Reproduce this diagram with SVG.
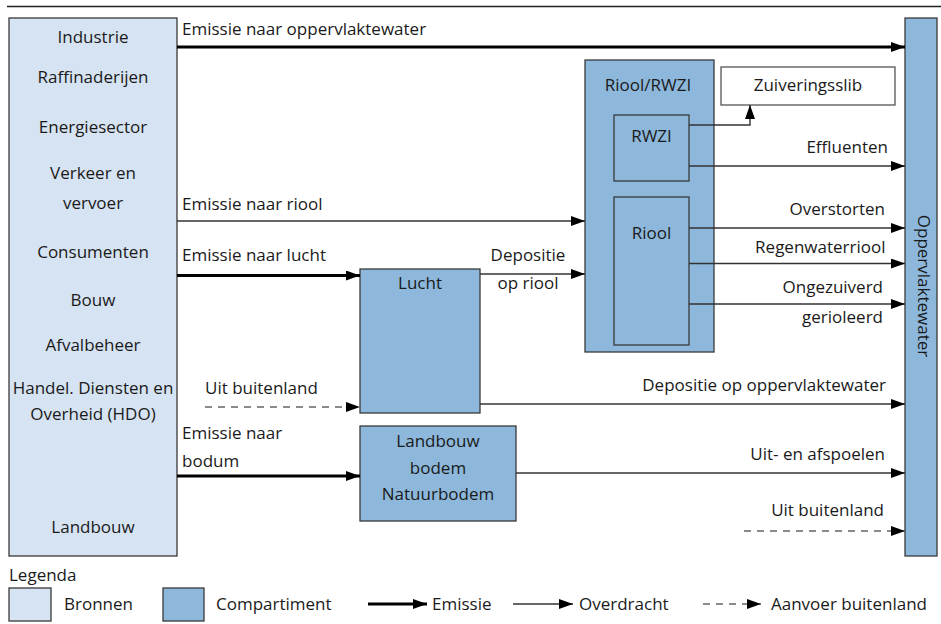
<svg xmlns="http://www.w3.org/2000/svg" width="941" height="624" viewBox="0 0 941 624">
<defs>
<marker id="ah" markerUnits="userSpaceOnUse" markerWidth="15" markerHeight="11" refX="14" refY="5" orient="auto">
<path d="M0,0 L14,5 L0,10 z" fill="#000"/>
</marker>
<style>
text{font-family:"Open Sans","Noto Sans","DejaVu Sans",sans-serif;font-size:17px;fill:#1a1a1a}
.c{text-anchor:middle}
.e{text-anchor:end}
.src{fill:#d6e3f2;stroke:#3a3a3a;stroke-width:1.3}
.cmp{fill:#8db8dc;stroke:#3a3a3a;stroke-width:1.3}
.wht{fill:#fff;stroke:#555;stroke-width:1.3}
.thin{fill:none;stroke:#333;stroke-width:1.4}
.thick{fill:none;stroke:#000;stroke-width:3}
.dash{fill:none;stroke:#666;stroke-width:1.4;stroke-dasharray:7 6}
.arr{marker-end:url(#ah)}
</style>
</defs>
<rect width="941" height="624" fill="#fff"/>
<line x1="7" y1="6.5" x2="941" y2="6.5" stroke="#222" stroke-width="1.3"/>

<g id="bronnen">
<rect class="src" x="9" y="18" width="168" height="538"/>
<text class="c" x="93" y="43">Industrie</text>
<text class="c" x="93" y="83">Raffinaderijen</text>
<text class="c" x="93" y="133">Energiesector</text>
<text class="c" x="93" y="179">Verkeer en</text>
<text class="c" x="93" y="209">vervoer</text>
<text class="c" x="93" y="258">Consumenten</text>
<text class="c" x="93" y="306">Bouw</text>
<text class="c" x="93" y="351">Afvalbeheer</text>
<text class="c" x="93" y="394">Handel. Diensten en</text>
<text class="c" x="93" y="420">Overheid (HDO)</text>
<text class="c" x="93" y="533">Landbouw</text>
</g>

<g id="oppervlaktewater">
<rect class="cmp" x="905" y="18" width="32" height="538"/>
<text class="c" transform="translate(918,286) rotate(90)">Oppervlaktewater</text>
</g>

<g id="riool-rwzi">
<rect class="cmp" x="585" y="60" width="129" height="292"/>
<text class="c" x="648" y="91">Riool/RWZI</text>
</g>
<g id="rwzi">
<rect class="cmp" x="614" y="115" width="75" height="66"/>
<text class="c" x="651.5" y="141.5">RWZI</text>
</g>
<g id="riool">
<rect class="cmp" x="614" y="197" width="75" height="148"/>
<text class="c" x="651.5" y="239">Riool</text>
</g>
<g id="zuiveringsslib">
<rect class="wht" x="721" y="67" width="174" height="38"/>
<text class="c" x="808" y="91">Zuiveringsslib</text>
</g>
<g id="lucht">
<rect class="cmp" x="360" y="269" width="120" height="144"/>
<text class="c" x="420" y="288.5">Lucht</text>
</g>
<g id="bodem">
<rect class="cmp" x="360" y="426" width="156" height="95"/>
<text class="c" x="438" y="447">Landbouw</text>
<text class="c" x="438" y="474">bodem</text>
<text class="c" x="438" y="500">Natuurbodem</text>
</g>

<g id="connectors">
<line class="thick arr" x1="177" y1="47" x2="905" y2="47"/>
<text x="182" y="35">Emissie naar oppervlaktewater</text>
<line class="thin arr" x1="177" y1="221" x2="585" y2="221"/>
<text x="182" y="210">Emissie naar riool</text>
<line class="thick arr" x1="177" y1="275.5" x2="360" y2="275.5"/>
<text x="182" y="260.5">Emissie naar lucht</text>
<line class="thin arr" x1="480" y1="274" x2="585" y2="274"/>
<text class="c" x="528" y="260.5">Depositie</text>
<text class="c" x="528" y="289">op riool</text>
<line class="dash arr" x1="205" y1="407" x2="360" y2="407"/>
<text x="205" y="393.5">Uit buitenland</text>
<line class="thin arr" x1="480" y1="404" x2="905" y2="404"/>
<text class="e" x="886" y="390.5">Depositie op oppervlaktewater</text>
<line class="thick arr" x1="177" y1="476" x2="360" y2="476"/>
<text x="182" y="438.5">Emissie naar</text>
<text x="182" y="467">bodum</text>
<line class="thin arr" x1="516" y1="473" x2="905" y2="473"/>
<text class="e" x="885" y="459.5">Uit- en afspoelen</text>
<line class="dash arr" x1="744" y1="531" x2="905" y2="531"/>
<text class="e" x="884" y="515.5">Uit buitenland</text>
<polyline class="thin arr" points="689,125 750,125 750,105"/>
<line class="thin arr" x1="689" y1="166" x2="905" y2="166"/>
<text class="e" x="888" y="153">Effluenten</text>
<line class="thin arr" x1="689" y1="228" x2="905" y2="228"/>
<text class="e" x="885" y="214.5">Overstorten</text>
<line class="thin arr" x1="689" y1="263.5" x2="905" y2="263.5"/>
<text class="e" x="885.5" y="253">Regenwaterriool</text>
<line class="thin arr" x1="689" y1="304" x2="905" y2="304"/>
<text class="e" x="883" y="293">Ongezuiverd</text>
<text class="e" x="883" y="323">gerioleerd</text>
</g>

<g id="legenda">
<text x="9" y="581">Legenda</text>
<rect class="src" x="9" y="588" width="42" height="33"/>
<text x="64" y="610">Bronnen</text>
<rect class="cmp" x="163" y="588" width="41" height="33"/>
<text x="216" y="610">Compartiment</text>
<line class="thick arr" x1="368" y1="604" x2="427" y2="604"/>
<text x="432" y="610">Emissie</text>
<line class="thin arr" x1="513" y1="604" x2="573" y2="604"/>
<text x="579" y="610">Overdracht</text>
<line class="dash arr" x1="703" y1="604" x2="761" y2="604"/>
<text x="771" y="610">Aanvoer buitenland</text>
</g>
</svg>
